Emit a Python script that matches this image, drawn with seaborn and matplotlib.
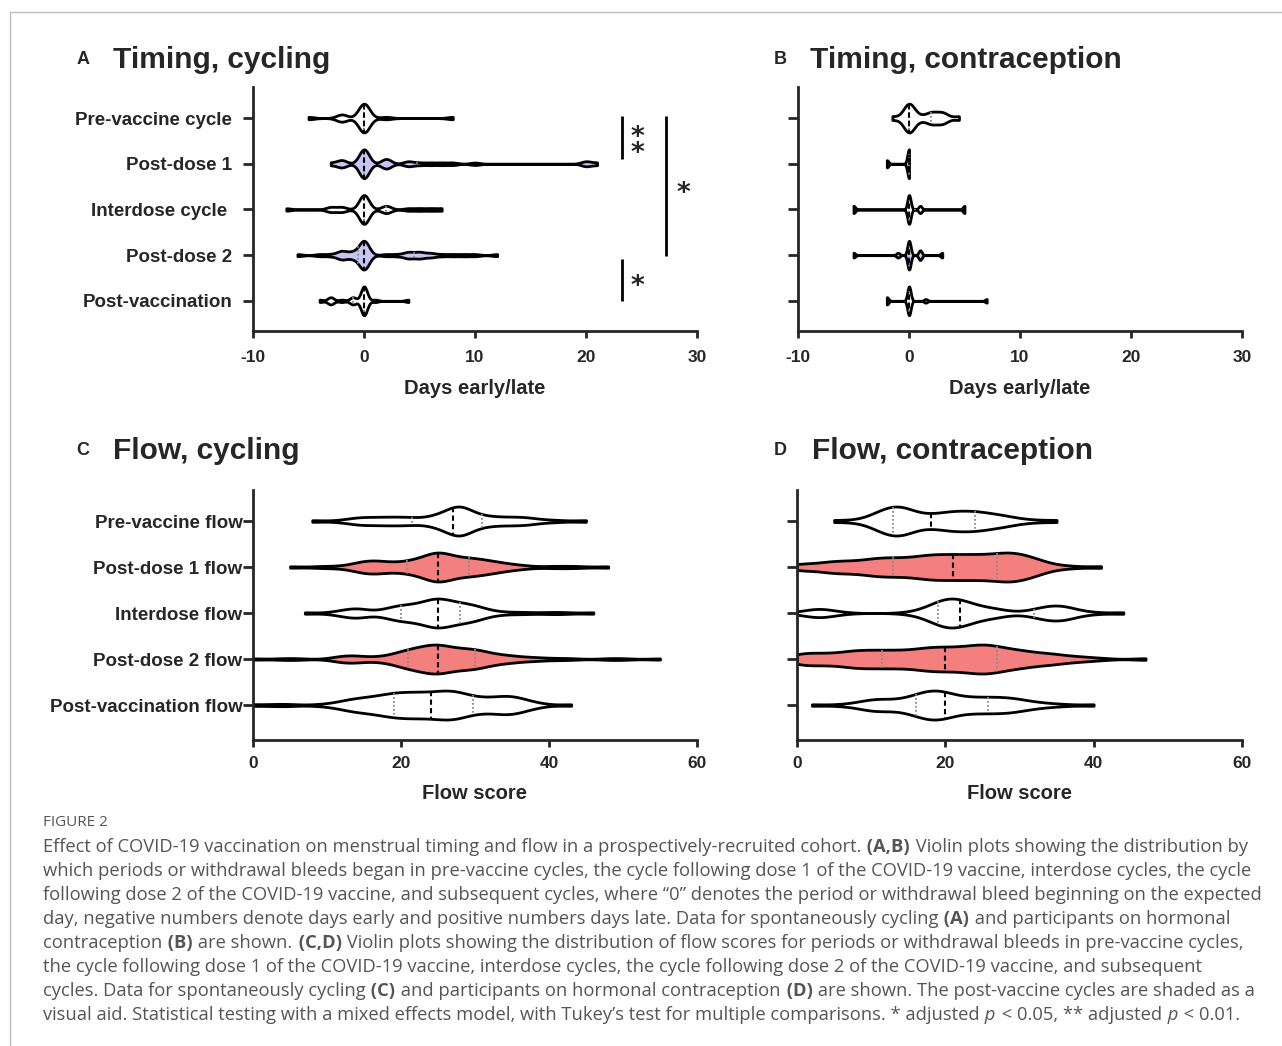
import numpy as np
import pandas as pd
import matplotlib
matplotlib.use("Agg")
import matplotlib.pyplot as plt
from matplotlib.patches import Rectangle
import seaborn as sns

# ---------------------------------------------------------------- data
timing_cats = ["Pre-vaccine cycle", "Post-dose 1", "Interdose cycle ", "Post-dose 2", "Post-vaccination"]
flow_cats = ["Pre-vaccine flow", "Post-dose 1 flow", "Interdose flow", "Post-dose 2 flow", "Post-vaccination flow"]

# Panel A: timing, spontaneously cycling (days early/late : number of cycles)
A_pre_vals = [-5, -2, 0, 2, 8]
A_pre_counts = [1, 3, 12, 1, 1]
A_d1_vals = [-3, -2, 0, 2, 4, 5, 6, 7, 8, 10, 20, 21]
A_d1_counts = [1, 3, 12, 4, 2, 1, 1, 1, 1, 1, 2, 1]
A_inter_vals = [-7, -3, -2, 0, 2, 4, 5, 6, 7]
A_inter_counts = [1, 2, 2, 12, 3, 1, 1, 1, 1]
A_d2_vals = [-6, -4, -3, -2, -1, 0, 2, 3, 4, 5, 6, 7, 8, 9, 10, 12]
A_d2_counts = [1, 1, 1, 4, 3, 14, 1, 1, 3, 3, 2, 1, 1, 1, 1, 1]
A_post_vals = [-4, -3, -2, -1, 0, 1, 4]
A_post_counts = [1, 3, 1, 3, 12, 1, 1]

# Panel B: timing, hormonal contraception
B_pre_vals = [-1.5, 0, 1, 2, 3, 4.5]
B_pre_counts = [1, 8, 1, 3, 3, 1]
B_d1_vals = [-2, 0]
B_d1_counts = [1, 4]
B_inter_vals = [-5, 0, 1, 5]
B_inter_counts = [1, 4, 1, 1]
B_d2_vals = [-5, -1, 0, 1, 3]
B_d2_counts = [1, 1, 6, 2, 1]
B_post_vals = [-2, 0, 1.5, 7]
B_post_counts = [2, 8, 1, 1]

# Panel C: flow score, spontaneously cycling
C_pre_vals = [8, 12, 14, 15, 17, 19, 21, 23, 25, 27, 28, 29, 31, 33, 35, 37, 39, 41, 45]
C_pre_counts = [1, 1, 2, 2, 3, 3, 3, 2, 5, 8, 6, 6, 4, 3, 3, 3, 1, 1, 1]
C_d1_vals = [5, 9, 11, 13, 14, 15, 16, 17, 18, 19, 20, 21, 22, 23, 24, 25, 26, 27, 28, 29,
             30, 31, 32, 33, 34, 35, 36, 37, 40, 42, 44, 48]
C_d1_counts = [1, 1, 1, 1, 2, 3, 3, 3, 2, 2, 2, 3, 3, 4, 6, 8, 6, 4, 4, 4,
               4, 3, 3, 2, 2, 1, 1, 1, 1, 1, 1, 1]
C_inter_vals = [7, 11, 12, 13, 14, 15, 17, 18, 19, 20, 21, 22, 23, 24, 25, 26, 27, 28, 29, 30,
                31, 32, 33, 35, 37, 40, 42, 46]
C_inter_counts = [1, 1, 1, 2, 3, 2, 1, 2, 3, 4, 3, 4, 4, 6, 8, 5, 5, 4, 4, 4,
                  2, 1, 1, 1, 1, 1, 1, 1]
C_d2_vals = [0, 4, 6, 11, 12, 13, 14, 15, 16, 17, 18, 19, 20, 21, 22, 23, 24, 25, 26, 27,
             28, 29, 30, 31, 32, 33, 34, 35, 36, 37, 38, 39, 41, 43, 48, 50, 55]
C_d2_counts = [1, 1, 1, 1, 2, 2, 2, 1, 1, 1, 2, 2, 4, 5, 5, 6, 7, 8, 6, 5,
               5, 5, 5, 4, 3, 2, 2, 2, 1, 1, 1, 1, 1, 1, 1, 1, 1]
C_post_vals = [0, 3, 5, 9, 11, 12, 13, 14, 15, 16, 17, 18, 19, 20, 21, 22, 23, 24, 25, 26,
               27, 28, 29, 30, 31, 32, 33, 34, 35, 36, 37, 38, 39, 43]
C_post_counts = [1, 1, 1, 1, 1, 2, 2, 3, 3, 3, 4, 4, 5, 5, 5, 5, 5, 5, 5, 6,
                 6, 5, 4, 3, 3, 3, 3, 4, 4, 3, 2, 1, 1, 1]

# Panel D: flow score, hormonal contraception
D_pre_vals = [5, 8, 10, 11, 12, 13, 14, 15, 16, 17, 18, 19, 20, 21, 22, 23, 24, 25, 26, 27,
              28, 29, 30, 32, 35]
D_pre_counts = [1, 1, 2, 3, 4, 5, 5, 4, 2, 2, 2, 2, 3, 3, 3, 3, 3, 3, 2, 2,
                2, 1, 1, 1, 1]
D_d1_vals = [0, 1, 2, 3, 4, 5, 6, 7, 8, 9, 10, 11, 12, 13, 14, 15, 16, 17, 18, 19,
             20, 21, 22, 23, 24, 25, 26, 27, 28, 29, 30, 31, 32, 33, 34, 35, 37, 41]
D_d1_counts = [2, 1, 1, 1, 2, 2, 2, 2, 2, 2, 3, 3, 3, 3, 3, 3, 3, 4, 4, 4,
               4, 4, 4, 4, 4, 4, 4, 4, 5, 5, 4, 4, 3, 2, 1, 1, 1, 1]
D_inter_vals = [0, 2, 3, 4, 6, 15, 17, 18, 19, 20, 21, 22, 23, 24, 25, 26, 27, 28, 30, 32,
                33, 34, 35, 36, 37, 38, 40, 44]
D_inter_counts = [1, 2, 2, 2, 1, 1, 2, 3, 4, 6, 6, 5, 4, 3, 2, 2, 2, 1, 1, 2,
                  2, 3, 3, 3, 2, 1, 1, 1]
D_d2_vals = [0, 1, 2, 3, 4, 5, 6, 7, 8, 9, 10, 11, 12, 13, 14, 15, 16, 17, 18, 19,
             20, 21, 22, 23, 24, 25, 26, 27, 28, 29, 30, 31, 32, 33, 34, 35, 36, 37, 38, 39, 41, 47]
D_d2_counts = [3, 2, 2, 2, 2, 2, 2, 3, 3, 3, 3, 3, 3, 3, 3, 3, 3, 4, 4, 4,
               4, 4, 4, 4, 5, 5, 5, 4, 4, 3, 3, 3, 2, 2, 2, 2, 1, 1, 1, 1, 1, 1]
D_post_vals = [2, 6, 8, 9, 10, 11, 12, 13, 14, 15, 16, 17, 18, 19, 20, 21, 22, 23, 24, 25,
               26, 27, 28, 29, 30, 31, 32, 33, 34, 36, 40]
D_post_counts = [1, 1, 1, 2, 2, 3, 2, 2, 2, 3, 4, 5, 6, 6, 5, 4, 3, 3, 3, 3,
                 3, 3, 3, 3, 2, 2, 1, 1, 1, 1, 1]

timing_ticks = [-10, 0, 10, 20, 30]
flow_ticks = [0, 20, 40, 60]

# ---------------------------------------------------------------- style
sns.set_style("ticks")
plt.rcParams["font.family"] = ["Liberation Sans", "DejaVu Sans"]
plt.rcParams["font.weight"] = "bold"
plt.rcParams["axes.labelweight"] = "bold"
plt.rcParams["axes.unicode_minus"] = False

PURPLE = "#c7c5f4"
RED = "#f47f7f"
WHITE = "#ffffff"
shade = [WHITE, PURPLE, WHITE, PURPLE, WHITE]
shade_flow = [WHITE, RED, WHITE, RED, WHITE]

W, H = 1282, 1046
fig = plt.figure(figsize=(W / 100, H / 100), dpi=100)


def px_axes(left, top, right, bottom):
    return fig.add_axes([left / W, 1 - bottom / H, (right - left) / W, (bottom - top) / H])


axA = px_axes(253, 87, 697, 331)
axB = px_axes(798, 87, 1242, 331)
axC = px_axes(253, 490, 697, 740)
axD = px_axes(797, 490, 1242, 740)


def draw_panel(ax, cats, vals, counts, colors, bws, width):
    for i, cat in enumerate(cats):
        obs = np.repeat(np.asarray(vals[i], float), counts[i])
        df = pd.DataFrame({"value": obs, "group": cat})
        factor = bws[i] / obs.std(ddof=1)
        n0 = len(ax.lines)
        sns.violinplot(data=df, x="value", y="group", order=cats, orient="h", ax=ax,
                       color=colors[i], saturation=1, linecolor="black", linewidth=2,
                       cut=0, bw_method=factor, gridsize=600, density_norm="width",
                       width=width, inner="quart", inner_kws=dict(linewidth=1.4))
        for j, ln in enumerate(ax.lines[n0:]):
            if j % 3 == 1:
                ln.set_color("black")
                ln.set_dashes((2.5, 1.6))
                ln.set_linewidth(1.5)
                ln.set_zorder(4)
            else:
                ln.set_color("#8a8a8a")
                ln.set_dashes((1.0, 1.2))
                ln.set_linewidth(1.3)
                ln.set_zorder(3)


draw_panel(axA, timing_cats,
           [A_pre_vals, A_d1_vals, A_inter_vals, A_d2_vals, A_post_vals],
           [A_pre_counts, A_d1_counts, A_inter_counts, A_d2_counts, A_post_counts],
           shade, [0.5, 0.45, 0.45, 0.45, 0.28], 0.63)
draw_panel(axB, timing_cats,
           [B_pre_vals, B_d1_vals, B_inter_vals, B_d2_vals, B_post_vals],
           [B_pre_counts, B_d1_counts, B_inter_counts, B_d2_counts, B_post_counts],
           shade, [0.5, 0.15, 0.15, 0.15, 0.15], 0.63)
draw_panel(axC, flow_cats,
           [C_pre_vals, C_d1_vals, C_inter_vals, C_d2_vals, C_post_vals],
           [C_pre_counts, C_d1_counts, C_inter_counts, C_d2_counts, C_post_counts],
           shade_flow, [1.5] * 5, 0.63)
draw_panel(axD, flow_cats,
           [D_pre_vals, D_d1_vals, D_inter_vals, D_d2_vals, D_post_vals],
           [D_pre_counts, D_d1_counts, D_inter_counts, D_d2_counts, D_post_counts],
           shade_flow, [1.6] * 5, 0.63)

for ax, ticks, xlim, cats, labelled, ylim, xlabel, tpad, lpad in [
        (axA, timing_ticks, (-10, 30), timing_cats, True, (4.66, -0.68), "Days early/late", 8.5, 10.5),
        (axB, timing_ticks, (-10, 30), timing_cats, False, (4.66, -0.68), "Days early/late", 8.5, 10.5),
        (axC, flow_ticks, (0, 60), flow_cats, True, (4.76, -0.674), "Flow score", 6.2, 9.5),
        (axD, flow_ticks, (0, 60), flow_cats, False, (4.76, -0.674), "Flow score", 6.2, 9.5)]:
    ax.set_xlim(*xlim)
    ax.set_ylim(*ylim)
    ax.set_xticks(ticks)
    ax.set_xticklabels([str(t) for t in ticks])
    ax.set_yticks(range(len(cats)))
    ax.set_yticklabels(cats if labelled else [])
    ax.set_ylabel("")
    ax.set_xlabel(xlabel, fontsize=14.5, labelpad=lpad)
    for s in ["top", "right"]:
        ax.spines[s].set_visible(False)
    for s in ["left", "bottom"]:
        ax.spines[s].set_linewidth(2)
    ax.tick_params(axis="x", length=5, width=2, pad=tpad, labelsize=12.5)
    ypad = 8 if ax is axA else 0.5
    ax.tick_params(axis="y", length=7, width=2, pad=ypad, labelsize=13.5)
    ax.set_facecolor("none")

# significance marks in panel A
sig_lines = [(23.2, -0.04, 0.9), (27.2, -0.04, 3.02), (23.2, 3.08, 4.0)]
sig_stars = [(24.6, 0.445, "*\n*"), (28.8, 1.49, "*"), (24.6, 3.54, "*")]
for x, y0, y1 in sig_lines:
    axA.plot([x, x], [y0, y1], color="black", lw=2, solid_capstyle="butt")
for x, y, s in sig_stars:
    axA.annotate(s, (x, y), xytext=(0, -5.5), textcoords="offset points", ha="center",
                 va="center", fontsize=19, fontweight="bold", family="DejaVu Sans",
                 linespacing=0.52)

# panel letters and titles
for lx, tx, y, letter, title in [(83, 113, 60, "A", "Timing, cycling"),
                                 (780, 810, 60, "B", "Timing, contraception"),
                                 (83, 113, 451, "C", "Flow, cycling"),
                                 (780, 812, 451, "D", "Flow, contraception")]:
    fig.text(lx / W, 1 - y / H, letter, fontsize=13, fontweight="bold", ha="center", va="center")
    fig.text(tx / W, 1 - y / H, title, fontsize=21.5, fontweight="bold", ha="left", va="center")

# frame line of the figure
fig.patches.append(Rectangle((10 / W, -0.1), 2, 1.1 - 12 / H, transform=fig.transFigure,
                             fill=False, edgecolor="#bdbdbd", lw=1))

# ---------------------------------------------------------------- caption
cap_color = "#555555"
cap_family = ["Open Sans", "DejaVu Sans"]
renderer = fig.canvas.get_renderer()
fig.text(43 / W, 1 - 823 / H, "FIGURE 2", fontsize=11, fontweight="normal", family=cap_family,
         color=cap_color, ha="left", va="center")

N, B_, I_ = "normal", "bold", "italic"
cap_lines = [
    [("Effect of COVID-19 vaccination on menstrual timing and flow in a prospectively-recruited cohort.", N),
     (" (A,B)", B_), (" Violin plots showing the distribution by", N)],
    [("which periods or withdrawal bleeds began in pre-vaccine cycles, the cycle following dose 1 of the COVID-19 vaccine, interdose cycles, the cycle", N)],
    [("following dose 2 of the COVID-19 vaccine, and subsequent cycles, where \u201c0\u201d denotes the period or withdrawal bleed beginning on the expected", N)],
    [("day, negative numbers denote days early and positive numbers days late. Data for spontaneously cycling", N),
     (" (A)", B_), (" and participants on hormonal", N)],
    [("contraception", N), (" (B)", B_), (" are shown.", N), (" (C,D)", B_),
     (" Violin plots showing the distribution of flow scores for periods or withdrawal bleeds in pre-vaccine cycles,", N)],
    [("the cycle following dose 1 of the COVID-19 vaccine, interdose cycles, the cycle following dose 2 of the COVID-19 vaccine, and subsequent", N)],
    [("cycles. Data for spontaneously cycling", N), (" (C)", B_), (" and participants on hormonal contraception", N),
     (" (D)", B_), (" are shown. The post-vaccine cycles are shaded as a", N)],
    [("visual aid. Statistical testing with a mixed effects model, with Tukey\u2019s test for multiple comparisons. * adjusted", N),
     (" p", I_), (" < 0.05, ** adjusted", N), (" p", I_), (" < 0.01.", N)],
]


def draw_line(y_base, segs, size):
    x = 43.0
    texts = []
    for s, kind in segs:
        t = fig.text(x / W, 1 - y_base / H, s, fontsize=size, family=cap_family, color=cap_color,
                     fontweight="bold" if kind == B_ else "normal",
                     fontstyle="italic" if kind == I_ else "normal",
                     ha="left", va="baseline")
        bb = t.get_window_extent(renderer)
        x = bb.x1 + 0.8
        texts.append(t)
    return x, texts


# fit the caption to the widest line of the reference (line 3: 43 -> 1260 px)
x_end, probe_texts = draw_line(852, cap_lines[2], 12)
for t in probe_texts:
    t.remove()
cap_size = 12 * (1217 / (x_end - 43))

for k, segs in enumerate(cap_lines):
    draw_line(852 + 24 * k, segs, cap_size)

fig.savefig("out.png", dpi=100)
